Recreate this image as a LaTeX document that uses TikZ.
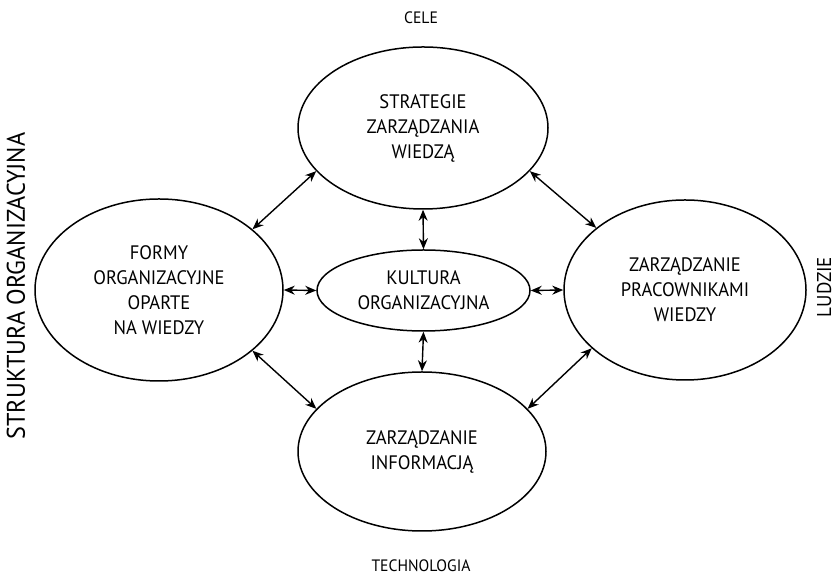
\documentclass[tikz,border=0pt]{standalone}
\usepackage{fontspec}
\setmainfont[FakeStretch=0.95]{PT Sans}
\usetikzlibrary{shapes.geometric,arrows.meta}
\begin{document}
\begin{tikzpicture}[x=1pt,y=1pt,
  oval/.style={ellipse,draw,line width=1.5pt,inner sep=0pt,align=center,
    font=\fontsize{19.5}{25}\selectfont},
  link/.style={{Stealth[length=11pt,width=9pt]}-{Stealth[length=11pt,width=9pt]},line width=1.4pt},
  side/.style={font=\fontsize{16.5}{20}\selectfont}]
\useasboundingbox (0,0) rectangle (837,577);
% five areas of knowledge management
\node[oval,minimum width=250pt,minimum height=162pt] (strat) at (423,449)
  {STRATEGIE\\ZARZĄDZANIA\\WIEDZĄ};
\node[oval,minimum width=248pt,minimum height=182pt] (formy) at (159,287)
  {FORMY\\ORGANIZACYJNE\\OPARTE\\NA WIEDZY};
\node[oval,minimum width=213pt,minimum height=81pt] (kult) at (423.5,286.5)
  {KULTURA\\ORGANIZACYJNA};
\node[oval,minimum width=242pt,minimum height=180pt] (prac) at (685,287)
  {ZARZĄDZANIE\\PRACOWNIKAMI\\WIEDZY};
\node[oval,minimum width=248pt,minimum height=159pt] (info) at (422,125.5)
  {ZARZĄDZANIE\\INFORMACJĄ};
% relations between the areas
\draw[link] (formy.33.5) -- (strat.202.8);
\draw[link] (strat.338) -- (prac.145.7);
\draw[link] (formy.327) -- (info.158.8);
\draw[link] (prac.212.6) -- (info.22.8);
\draw[link] (formy.east) -- (kult.west);
\draw[link] (kult.east) -- (prac.west);
\draw[link] (strat.south) -- (kult.north);
\draw[link] (kult.south) -- (info.north);
% surrounding dimensions
\node[side] (cele) at (421,559) {CELE};
\node[side] (tech) at (421,11) {TECHNOLOGIA};
\node[side,rotate=90,font=\fontsize{25.5}{30}\selectfont] (strukt) at (16,291) {STRUKTURA ORGANIZACYJNA};
\node[side,rotate=90,font=\fontsize{20}{24}\selectfont] (ludzie) at (824,290) {LUDZIE};
\end{tikzpicture}
\end{document}
